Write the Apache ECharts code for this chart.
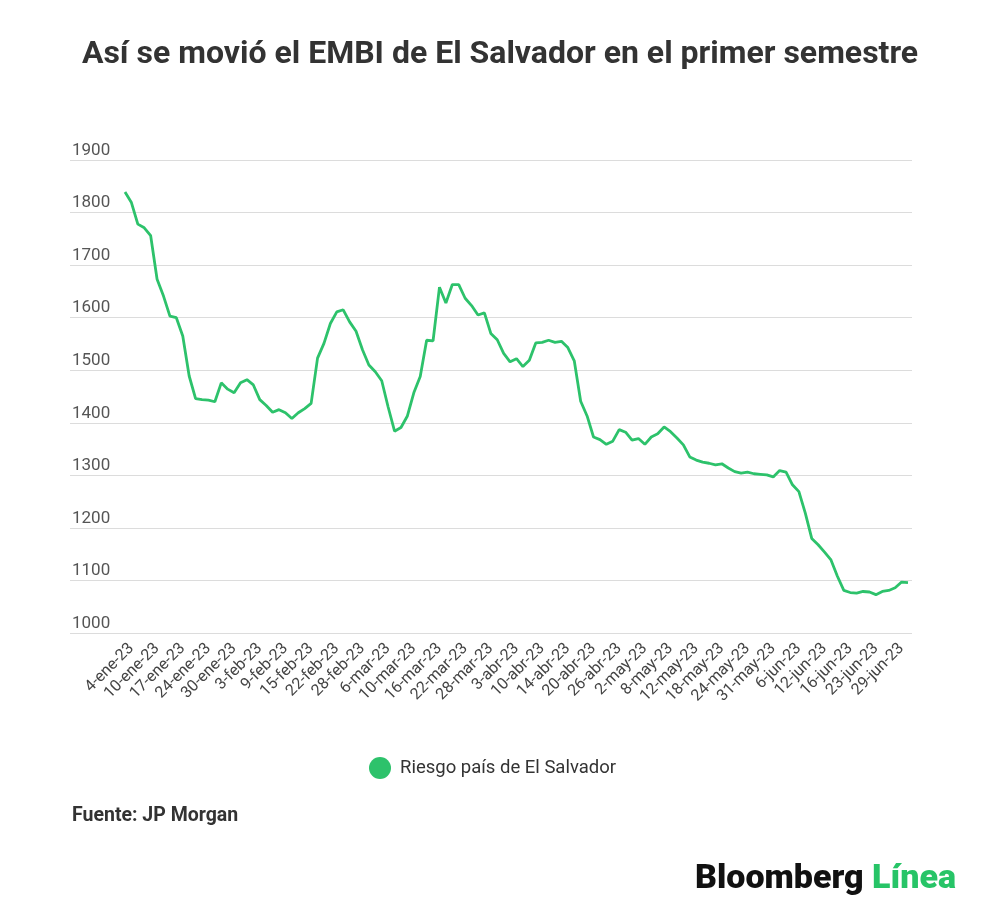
<!DOCTYPE html>
<html lang="es">
  <head>
    <meta charset="UTF-8" />
    <title>EMBI El Salvador</title>
    <script src="https://cdn.jsdelivr.net/npm/echarts@6/dist/echarts.min.js"></script>
    <style>
      html, body { margin: 0; padding: 0; background: #fff; }
      #chart { width: 1000px; height: 920px; }
    </style>
  </head>
  <body>
    <div id="chart"></div>
    <script>
      // fechas (días hábiles), una etiqueta cada 4 puntos a partir de 4-ene
      var fechas = [
        '3-ene-23', '4-ene-23', '5-ene-23', '6-ene-23', '9-ene-23', '10-ene-23', '11-ene-23', '12-ene-23',
        '13-ene-23', '17-ene-23', '18-ene-23', '19-ene-23', '23-ene-23', '24-ene-23', '25-ene-23', '26-ene-23',
        '27-ene-23', '30-ene-23', '31-ene-23', '1-feb-23', '2-feb-23', '3-feb-23', '6-feb-23', '7-feb-23',
        '8-feb-23', '9-feb-23', '10-feb-23', '13-feb-23', '14-feb-23', '15-feb-23', '16-feb-23', '17-feb-23',
        '21-feb-23', '22-feb-23', '23-feb-23', '24-feb-23', '27-feb-23', '28-feb-23', '1-mar-23', '2-mar-23',
        '3-mar-23', '6-mar-23', '7-mar-23', '8-mar-23', '9-mar-23', '10-mar-23', '13-mar-23', '14-mar-23',
        '15-mar-23', '16-mar-23', '17-mar-23', '20-mar-23', '21-mar-23', '22-mar-23', '23-mar-23', '24-mar-23',
        '27-mar-23', '28-mar-23', '29-mar-23', '30-mar-23', '31-mar-23', '3-abr-23', '4-abr-23', '5-abr-23',
        '6-abr-23', '10-abr-23', '11-abr-23', '12-abr-23', '13-abr-23', '14-abr-23', '17-abr-23', '18-abr-23',
        '19-abr-23', '20-abr-23', '21-abr-23', '24-abr-23', '25-abr-23', '26-abr-23', '27-abr-23', '28-abr-23',
        '1-may-23', '2-may-23', '3-may-23', '4-may-23', '5-may-23', '8-may-23', '9-may-23', '10-may-23',
        '11-may-23', '12-may-23', '15-may-23', '16-may-23', '17-may-23', '18-may-23', '19-may-23', '22-may-23',
        '23-may-23', '24-may-23', '25-may-23', '26-may-23', '30-may-23', '31-may-23', '1-jun-23', '2-jun-23',
        '5-jun-23', '6-jun-23', '7-jun-23', '8-jun-23', '9-jun-23', '12-jun-23', '13-jun-23', '14-jun-23',
        '15-jun-23', '16-jun-23', '20-jun-23', '21-jun-23', '22-jun-23', '23-jun-23', '26-jun-23', '27-jun-23',
        '28-jun-23', '29-jun-23', '30-jun-23'
      ];

      // riesgo país (puntos básicos)
      var riesgo = [
        1839, 1819, 1778, 1771, 1756, 1673, 1641, 1603, 1600, 1565,
        1489, 1446, 1444, 1443, 1440, 1476, 1464, 1457, 1476, 1482,
        1472, 1444, 1433, 1420, 1425, 1419, 1408, 1419, 1427, 1437,
        1523, 1551, 1589, 1611, 1615, 1592, 1574, 1539, 1510, 1497,
        1480, 1430, 1384, 1391, 1413, 1457, 1488, 1557, 1556, 1658,
        1628, 1663, 1663, 1637, 1623, 1605, 1609, 1570, 1558, 1532,
        1516, 1522, 1507, 1519, 1552, 1553, 1557, 1553, 1555, 1543,
        1518, 1441, 1413, 1373, 1368, 1359, 1365, 1387, 1382, 1367,
        1370, 1359, 1373, 1379, 1392, 1383, 1371, 1358, 1335, 1329,
        1325, 1323, 1320, 1322, 1314, 1307, 1304, 1306, 1303, 1302,
        1301, 1297, 1309, 1306, 1282, 1269, 1228, 1180, 1168, 1154,
        1139, 1108, 1081, 1077, 1076, 1079, 1078, 1073, 1079, 1081,
        1086, 1097, 1096
      ];

      var titulo = 'Así se movió el EMBI de El Salvador en el primer semestre';
      var nombreSerie = 'Riesgo país de El Salvador';
      var fuente = 'Fuente: JP Morgan';
      var verde = '#2dc26b';

      var chart = echarts.init(document.getElementById('chart'));

      var option = {
        animation: false,
        textStyle: { fontFamily: 'Roboto' },
        title: {
          text: titulo,
          left: 'center',
          top: 34,
          textStyle: { fontSize: 32, fontWeight: 'bold', color: '#333', fontFamily: 'Roboto' }
        },
        legend: {
          data: [{ name: nombreSerie, icon: 'circle' }],
          left: 364,
          top: 752,
          itemWidth: 22,
          itemHeight: 22,
          itemGap: 12,
          textStyle: { fontSize: 18.5, color: '#333', padding: [0, 0, 0, 4] }
        },
        // grid 0: solo las líneas de fondo a todo lo ancho; grid 1: la serie
        grid: [
          { left: 70, right: 88, top: 160, bottom: 287 },
          { left: 125, right: 92, top: 160, bottom: 287 }
        ],
        xAxis: [
          { gridIndex: 0, type: 'value', show: false },
          {
            gridIndex: 1,
            type: 'category',
            data: fechas,
            boundaryGap: false,
            axisLine: { show: false },
            axisTick: { show: false },
            axisLabel: {
              rotate: 45,
              margin: 13,
              fontSize: 16,
              color: '#444',
              interval: function (idx) { return idx % 4 === 1; }
            }
          }
        ],
        yAxis: [
          {
            gridIndex: 0,
            type: 'value',
            min: 1000,
            max: 1900,
            interval: 100,
            axisLine: { show: false },
            axisTick: { show: false },
            splitLine: { lineStyle: { color: '#dcdcdc', width: 1 } },
            axisLabel: {
              inside: true,
              margin: 2,
              verticalAlign: 'bottom',
              padding: [0, 0, 1, 0],
              fontSize: 17,
              color: '#555',
              formatter: function (v) { return String(v); }
            }
          },
          {
            gridIndex: 1,
            type: 'value',
            min: 1000,
            max: 1900,
            interval: 100,
            show: false,
            splitLine: { show: false }
          }
        ],
        series: [
          {
            name: nombreSerie,
            type: 'line',
            xAxisIndex: 1,
            yAxisIndex: 1,
            data: riesgo,
            showSymbol: false,
            symbol: 'circle',
            color: verde,
            lineStyle: { color: verde, width: 2.8 }
          }
        ],
        graphic: [
          {
            type: 'text',
            left: 72,
            top: 806,
            style: { text: fuente, fontSize: 19.5, fontWeight: 'bold', fill: '#333', fontFamily: 'Roboto' }
          },
          {
            type: 'text',
            right: 44,
            top: 862,
            style: {
              text: '{a|Bloomberg}{b| Línea}',
              rich: {
                a: { fontSize: 34, fontWeight: 900, fill: '#111', fontFamily: 'Roboto' },
                b: { fontSize: 34, fontWeight: 900, fill: '#27c467', fontFamily: 'Roboto' }
              }
            }
          }
        ]
      };

      chart.setOption(option);
    </script>
  </body>
</html>
